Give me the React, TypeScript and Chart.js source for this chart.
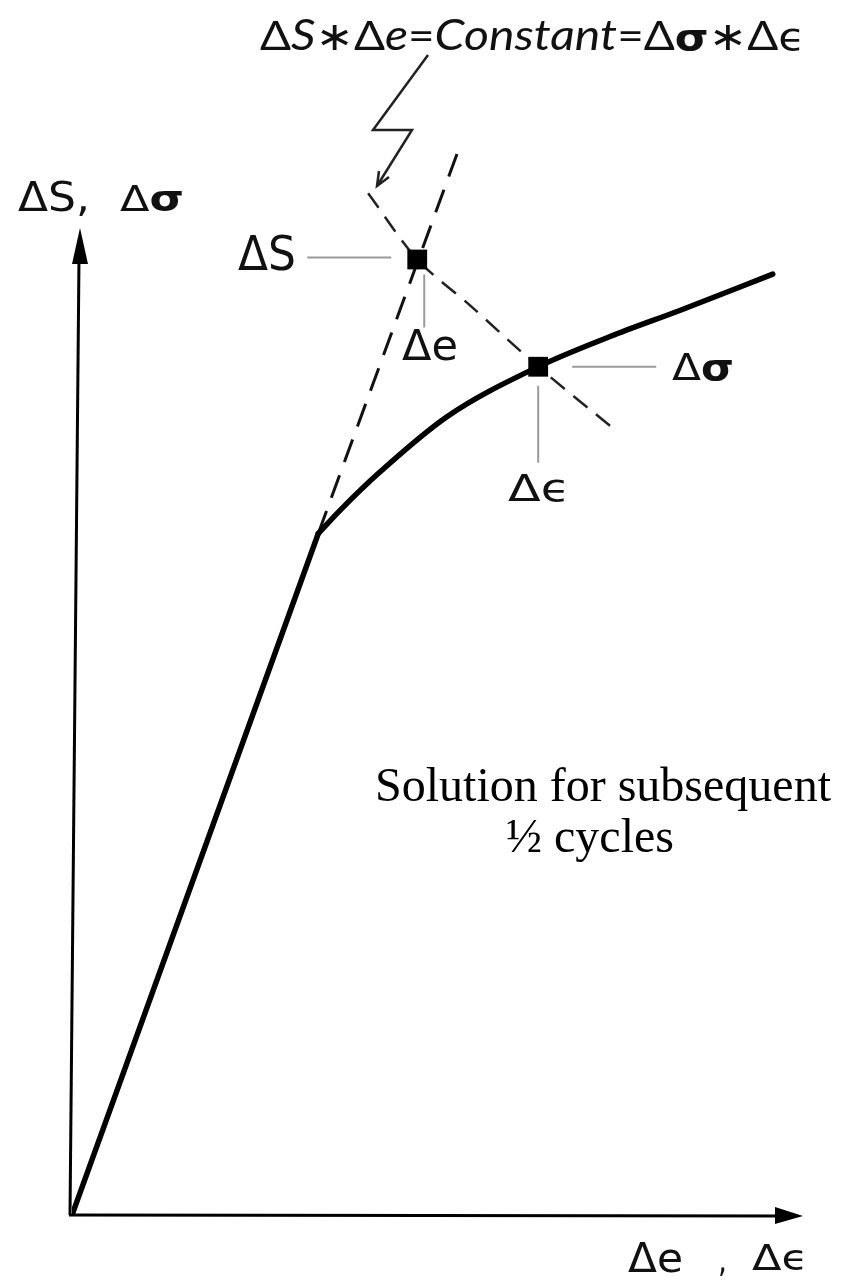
import React, { useEffect, useRef } from "react";
import { Chart, registerables } from "chart.js";

Chart.register(...registerables);

// Nominal (elastic) response: straight line from the origin to the yield knee
const elasticStrain = [0, 3.36];
const elasticStress = [0, 6.99];

// Cyclic stress-strain curve beyond the knee
const cyclicStrain = [3.36, 3.66, 4.2, 5.12, 6.36, 7.34, 8.3, 9.56];
const cyclicStress = [6.99, 7.23, 7.62, 8.19, 8.7, 9.01, 9.28, 9.65];

// Elastic line extended past the knee (dashed)
const elasticExtStrain = [3.36, 5.3];
const elasticExtStress = [6.99, 10.98];

// Neuber hyperbola ΔS·Δe = Δσ·Δε (dashed)
const neuberStrain = [4.04, 4.71, 5.43, 6.36, 7.38];
const neuberStress = [10.48, 9.8, 9.33, 8.7, 8.07];

// Marked solutions: nominal (ΔS, Δe) and local (Δσ, Δε)
const solutionStrain = [4.71, 6.36];
const solutionStress = [9.8, 8.7];

const axisMin = 0;
const axisMax = 10;

const pts = (xs: number[], ys: number[]) => xs.map((x, i) => ({ x, y: ys[i] }));

const SANS = "'DejaVu Sans', sans-serif";
const LATO = "Lato, 'DejaVu Sans', sans-serif";

type Part = { t: string; font: string };

// Draws a run of text pieces, squeezed horizontally to a given width
function drawParts(
  ctx: CanvasRenderingContext2D,
  parts: Part[],
  x: number,
  y: number,
  width: number
) {
  let total = 0;
  const widths = parts.map((p) => {
    ctx.font = p.font;
    const w = ctx.measureText(p.t).width;
    total += w;
    return w;
  });
  const sx = width / total;
  ctx.save();
  ctx.translate(x, y);
  ctx.scale(sx, 1);
  ctx.textBaseline = "alphabetic";
  ctx.textAlign = "left";
  ctx.fillStyle = "#111";
  let cx = 0;
  parts.forEach((p, i) => {
    ctx.font = p.font;
    ctx.fillText(p.t, cx, 0);
    cx += widths[i];
  });
  ctx.restore();
}

function line(ctx: CanvasRenderingContext2D, coords: number[][], color: string, w: number) {
  ctx.save();
  ctx.strokeStyle = color;
  ctx.lineWidth = w;
  ctx.lineCap = "butt";
  ctx.lineJoin = "miter";
  ctx.beginPath();
  coords.forEach(([px, py], i) => (i === 0 ? ctx.moveTo(px, py) : ctx.lineTo(px, py)));
  ctx.stroke();
  ctx.restore();
}

function triangle(ctx: CanvasRenderingContext2D, a: number[], b: number[], c: number[]) {
  ctx.save();
  ctx.fillStyle = "#000";
  ctx.beginPath();
  ctx.moveTo(a[0], a[1]);
  ctx.lineTo(b[0], b[1]);
  ctx.lineTo(c[0], c[1]);
  ctx.closePath();
  ctx.fill();
  ctx.restore();
}

const decorPlugin = {
  id: "neuberDecor",
  beforeDraw(chart: any) {
    const { ctx, width, height } = chart;
    ctx.save();
    ctx.fillStyle = "#fff";
    ctx.fillRect(0, 0, width, height);
    ctx.restore();
  },
  afterDatasetsDraw(chart: any) {
    const ctx: CanvasRenderingContext2D = chart.ctx;
    const xs = chart.scales.x;
    const ys = chart.scales.y;
    const area = chart.chartArea;
    const ox = xs.getPixelForValue(0);
    const oy = ys.getPixelForValue(0);

    // axes with arrow heads
    const yTop = area.top - 12;
    line(ctx, [[ox - 2, oy], [ox + 7, yTop + 30]], "#000", 3);
    triangle(ctx, [ox + 8, yTop], [ox, yTop + 36], [ox + 16, yTop + 36]);
    const xRight = area.right - 2;
    line(ctx, [[ox - 3, oy], [xRight - 20, oy + 1]], "#000", 3);
    triangle(ctx, [xRight, oy + 1], [xRight - 28, oy - 8], [xRight - 28, oy + 9]);

    // leader lines to the marked solutions
    const ax = xs.getPixelForValue(solutionStrain[0]);
    const ay = ys.getPixelForValue(solutionStress[0]);
    const bx = xs.getPixelForValue(solutionStrain[1]);
    const by = ys.getPixelForValue(solutionStress[1]);
    const grey = "#9a9a9a";
    line(ctx, [[ax - 110, ay - 2], [ax - 26, ay - 2]], grey, 2);
    line(ctx, [[ax + 7, ay + 15], [ax + 7, ay + 68]], grey, 2);
    line(ctx, [[bx + 34, by], [bx + 118, by]], grey, 2);
    line(ctx, [[bx, by + 19], [bx, by + 96]], grey, 2);

    // lightning-shaped pointer from the equation to the hyperbola
    const tip = [377, 186];
    line(ctx, [[428, 55], [373, 130], [412, 130], tip], "#222", 2.5);
    ctx.save();
    ctx.strokeStyle = "#222";
    ctx.lineWidth = 2.5;
    ctx.beginPath();
    ctx.moveTo(tip[0] + 2, tip[1] - 15);
    ctx.lineTo(tip[0], tip[1]);
    ctx.lineTo(tip[0] + 12, tip[1] - 9);
    ctx.stroke();
    ctx.restore();

    // equation
    drawParts(
      ctx,
      [
        { t: "\u0394", font: `40px ${LATO}` },
        { t: "S", font: `italic 42px ${LATO}` },
        { t: "\u2217", font: `40px ${LATO}` },
        { t: "\u0394", font: `40px ${LATO}` },
        { t: "e", font: `italic 42px ${LATO}` },
        { t: "=", font: `40px ${LATO}` },
        { t: "Constant", font: `italic 42px ${LATO}` },
        { t: "=", font: `40px ${LATO}` },
        { t: "\u0394", font: `40px ${LATO}` },
        { t: "\u03c3", font: `bold 38px ${SANS}` },
        { t: "\u2217", font: `40px ${LATO}` },
        { t: "\u0394", font: `40px ${LATO}` },
        { t: "\u03f5", font: `38px ${SANS}` },
      ],
      260,
      50,
      545
    );

    // axis titles
    drawParts(ctx, [{ t: "\u0394S,", font: `40px ${SANS}` }], 18, 211, 72);
    drawParts(
      ctx,
      [
        { t: "\u0394", font: `35px ${SANS}` },
        { t: "\u03c3", font: `bold 36px ${SANS}` },
      ],
      120,
      211,
      64
    );
    drawParts(ctx, [{ t: "\u0394e", font: `40px ${SANS}` }], 628, 1272, 55);
    drawParts(ctx, [{ t: ",", font: `36px ${SANS}` }], 718, 1272, 9);
    drawParts(
      ctx,
      [
        { t: "\u0394", font: `36px ${SANS}` },
        { t: "\u03f5", font: `36px ${SANS}` },
      ],
      752,
      1270,
      56
    );

    // solution labels
    drawParts(ctx, [{ t: "\u0394S", font: `48px ${SANS}` }], 238, 270, 58);
    drawParts(ctx, [{ t: "\u0394e", font: `42px ${SANS}` }], 402, 360, 56);
    drawParts(
      ctx,
      [
        { t: "\u0394", font: `38px ${SANS}` },
        { t: "\u03c3", font: `bold 38px ${SANS}` },
      ],
      672,
      380,
      62
    );
    drawParts(
      ctx,
      [
        { t: "\u0394", font: `38px ${SANS}` },
        { t: "\u03f5", font: `38px ${SANS}` },
      ],
      508,
      501,
      62
    );

    // caption
    ctx.save();
    ctx.fillStyle = "#000";
    ctx.textAlign = "center";
    ctx.textBaseline = "alphabetic";
    ctx.font = "48px 'Liberation Serif', serif";
    ctx.fillText("Solution for subsequent", 603, 801);
    ctx.fillText("\u00bd cycles", 590, 852);
    ctx.restore();
  },
};

export default function App() {
  const ref = useRef<HTMLCanvasElement | null>(null);

  useEffect(() => {
    if (!ref.current) return;
    const chart = new Chart(ref.current, {
      type: "scatter",
      data: {
        datasets: [
          {
            label: "solutions",
            data: pts(solutionStrain, solutionStress),
            showLine: false,
            pointStyle: "rect",
            pointRadius: 14,
            backgroundColor: "#000",
            borderWidth: 0,
            clip: false,
          } as any,
          {
            label: "elastic",
            data: pts(elasticStrain, elasticStress),
            showLine: true,
            borderColor: "#000",
            borderWidth: 5.5,
            borderCapStyle: "round",
            pointRadius: 0,
            tension: 0,
          },
          {
            label: "cyclic",
            data: pts(cyclicStrain, cyclicStress),
            showLine: true,
            borderColor: "#000",
            borderWidth: 5.5,
            borderCapStyle: "round",
            pointRadius: 0,
            cubicInterpolationMode: "monotone",
          },
          {
            label: "elastic extension",
            data: pts(elasticExtStrain, elasticExtStress),
            showLine: true,
            borderColor: "#111",
            borderWidth: 3,
            borderDash: [24, 14],
            pointRadius: 0,
            tension: 0,
            clip: false,
          } as any,
          {
            label: "Neuber",
            data: pts(neuberStrain, neuberStress),
            showLine: true,
            borderColor: "#222",
            borderWidth: 2.5,
            borderDash: [18, 11],
            pointRadius: 0,
            tension: 0.3,
            clip: false,
          } as any,
        ],
      },
      options: {
        responsive: false,
        animation: false,
        events: [],
        layout: { padding: { left: 72, right: 37, top: 240, bottom: 65 } },
        plugins: {
          legend: { display: false },
          tooltip: { enabled: false },
        },
        scales: {
          x: { type: "linear", min: axisMin, max: axisMax, display: false },
          y: { type: "linear", min: axisMin, max: axisMax, display: false },
        },
      },
      plugins: [decorPlugin],
    });
    return () => chart.destroy();
  }, []);

  return (
    <div style={{ position: "absolute", left: 0, top: 0, width: 842, height: 1280, background: "#fff" }}>
      <canvas ref={ref} width={842} height={1280} style={{ display: "block" }} />
    </div>
  );
}
